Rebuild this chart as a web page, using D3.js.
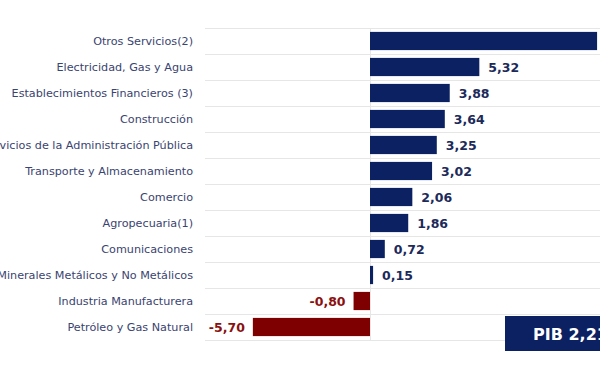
<!DOCTYPE html>
<html>
<head>
<meta charset="utf-8">
<script src="https://cdn.jsdelivr.net/npm/d3@7"></script>
<style>
  body { margin: 0; background: #fff; overflow: hidden; }
  svg { display: block; }
</style>
</head>
<body>
<div id="chart"></div>
<script>
const sectors = [
    'Otros Servicios(2)',
    'Electricidad, Gas y Agua',
    'Establecimientos Financieros (3)',
    'Construcción',
    'Servicios de la Administración Pública',
    'Transporte y Almacenamiento',
    'Comercio',
    'Agropecuaria(1)',
    'Comunicaciones',
    'Minerales Metálicos y No Metálicos',
    'Industria Manufacturera',
    'Petróleo y Gas Natural'
];
const growth = [11.05, 5.32, 3.88, 3.64, 3.25, 3.02, 2.06, 1.86, 0.72, 0.15, -0.80, -5.70];
const pibLabel = 'PIB 2,21%';

const width = 600, height = 375;
const margin = {top: 28, bottom: 35, gridLeft: 205, labelRight: 193};
const zeroX = 370;
const pxPerUnit = 20.55;

const colors = {
    pos: '#0b2161',
    neg: '#7f0000',
    posText: '#1c2a5a',
    negText: '#8a1010',
    label: '#3a4470',
    grid: '#e6e6e6'
};

const data = sectors.map((s, i) => ({sector: s, value: growth[i]}));

const svg = d3.select('#chart').append('svg')
    .attr('width', width)
    .attr('height', height);

const x = d3.scaleLinear()
    .domain([0, 1])
    .range([zeroX, zeroX + pxPerUnit]);

const y = d3.scaleBand()
    .domain(sectors)
    .range([margin.top, margin.top + 26 * sectors.length])
    .paddingInner(0.3)
    .paddingOuter(0.15);

const step = y.step();

// horizontal grid lines between rows
svg.append('g').selectAll('line')
    .data(d3.range(sectors.length + 1))
    .enter()
    .append('line')
    .attr('x1', margin.gridLeft)
    .attr('x2', width)
    .attr('y1', i => margin.top + i * step + 0.5)
    .attr('y2', i => margin.top + i * step + 0.5)
    .attr('stroke', colors.grid)
    .attr('stroke-width', 1.2);

// zero line
svg.append('line')
    .attr('x1', x(0) + 0.5).attr('x2', x(0) + 0.5)
    .attr('y1', margin.top)
    .attr('y2', margin.top + step * sectors.length)
    .attr('stroke', colors.grid)
    .attr('stroke-width', 1);

// category labels
svg.append('g').selectAll('text')
    .data(data)
    .enter()
    .append('text')
    .text(d => d.sector)
    .attr('x', margin.labelRight)
    .attr('y', d => y(d.sector) + y.bandwidth() / 2)
    .attr('text-anchor', 'end')
    .attr('dominant-baseline', 'central')
    .attr('font-family', 'DejaVu Sans, Verdana, sans-serif')
    .attr('font-size', 11.2)
    .attr('fill', colors.label);

// bars
svg.append('g').selectAll('rect')
    .data(data)
    .enter()
    .append('rect')
    .attr('x', d => x(Math.min(0, d.value)))
    .attr('y', d => y(d.sector))
    .attr('width', d => Math.abs(x(d.value) - x(0)))
    .attr('height', y.bandwidth())
    .attr('fill', d => d.value >= 0 ? colors.pos : colors.neg);

// value labels
const fmt = v => d3.format('.2f')(v).replace('.', ',').replace('−', '-');
svg.append('g').selectAll('text')
    .data(data)
    .enter()
    .append('text')
    .text(d => fmt(d.value))
    .attr('x', d => d.value >= 0 ? x(d.value) + 9 : x(d.value) - 8)
    .attr('y', d => y(d.sector) + y.bandwidth() / 2)
    .attr('text-anchor', d => d.value >= 0 ? 'start' : 'end')
    .attr('dominant-baseline', 'central')
    .attr('font-family', 'DejaVu Sans, Verdana, sans-serif')
    .attr('font-weight', 'bold')
    .attr('font-size', 12.5)
    .attr('fill', d => d.value >= 0 ? colors.posText : colors.negText);

// PIB box
const pib = svg.append('g').attr('transform', 'translate(505,316)');
pib.append('rect')
    .attr('width', 130)
    .attr('height', 35)
    .attr('fill', colors.pos);
pib.append('text')
    .text(pibLabel)
    .attr('x', 28)
    .attr('y', 18)
    .attr('dominant-baseline', 'central')
    .attr('font-family', 'DejaVu Sans, Verdana, sans-serif')
    .attr('font-weight', 'bold')
    .attr('font-size', 16)
    .attr('fill', '#fff');
</script>
</body>
</html>
